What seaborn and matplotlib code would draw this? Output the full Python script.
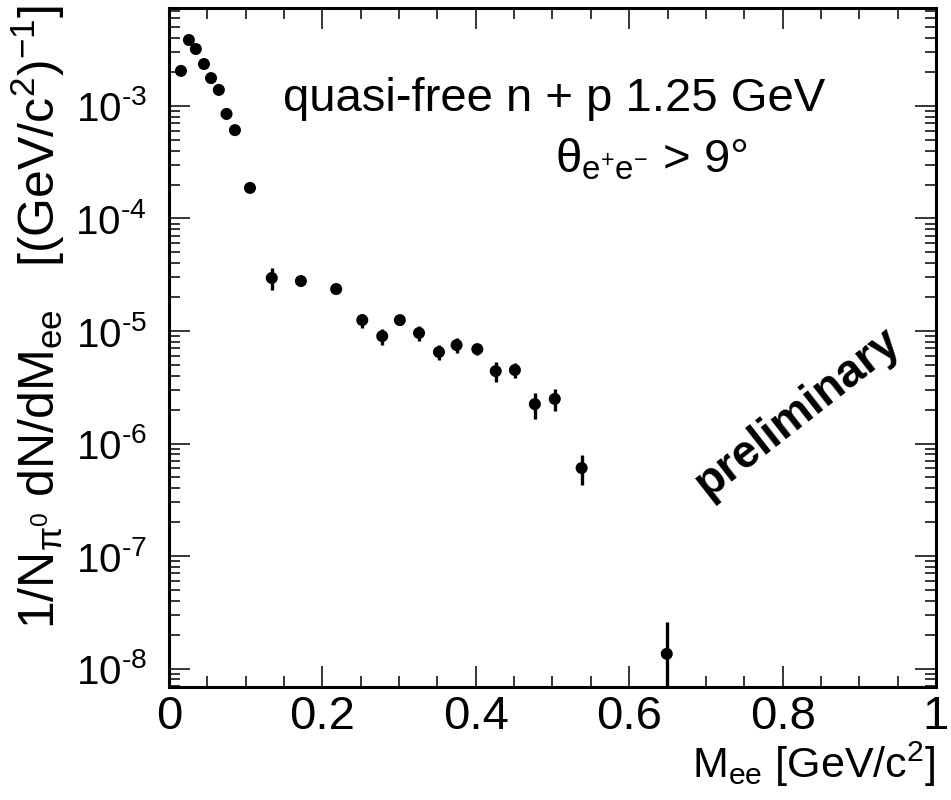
import numpy as np
import pandas as pd
import matplotlib
matplotlib.use("Agg")
import matplotlib.pyplot as plt
import matplotlib.ticker as mticker
import seaborn as sns

# ---- data ----
mee = [0.0156, 0.026, 0.035, 0.0456, 0.0548, 0.065, 0.075, 0.086, 0.1056,
       0.134, 0.172, 0.218, 0.252, 0.278, 0.301, 0.326, 0.352, 0.375, 0.402,
       0.426, 0.451, 0.477, 0.503, 0.538, 0.649]
yield_ = [2.05e-3, 3.86e-3, 3.21e-3, 2.36e-3, 1.77e-3, 1.39e-3, 8.5e-4, 6.1e-4, 1.87e-4,
          2.96e-5, 2.78e-5, 2.36e-5, 1.25e-5, 9.0e-6, 1.25e-5, 9.6e-6, 6.5e-6, 7.5e-6, 6.9e-6,
          4.4e-6, 4.5e-6, 2.24e-6, 2.49e-6, 6.05e-7, 1.35e-8]
err = [4e-5, 6e-5, 5e-5, 4e-5, 3e-5, 3e-5, 2e-5, 2e-5, 8e-6,
       6.5e-6, 1.5e-6, 1.2e-6, 1.8e-6, 1.5e-6, 1.2e-6, 1.5e-6, 1.0e-6, 1.1e-6, 0.8e-6,
       0.9e-6, 0.7e-6, 0.58e-6, 0.55e-6, 1.8e-7, 1.24e-8]
ytick_values = [1e-8, 1e-7, 1e-6, 1e-5, 1e-4, 1e-3]
xtick_values = [0, 0.2, 0.4, 0.6, 0.8, 1.0]

df = pd.DataFrame({"mee": mee, "y": yield_, "err": err})

sns.set_theme(style="ticks")
plt.rcParams["font.family"] = ["Liberation Sans", "DejaVu Sans"]
plt.rcParams["mathtext.fontset"] = "custom"
plt.rcParams["mathtext.rm"] = "Liberation Sans"
plt.rcParams["mathtext.it"] = "Liberation Sans"
plt.rcParams["mathtext.bf"] = "Liberation Sans:bold"
plt.rcParams["mathtext.default"] = "regular"
for k in ["text.color", "axes.labelcolor", "xtick.color", "ytick.color", "axes.edgecolor"]:
    plt.rcParams[k] = "black"

fig = plt.figure(figsize=(9.51, 8), dpi=100)
ax = fig.add_axes([0.1777, 0.14125, 0.8065, 0.84875])

ax.errorbar(df["mee"], df["y"], yerr=df["err"], fmt="none", ecolor="black",
            elinewidth=2.4, capsize=0, zorder=2)
sns.scatterplot(data=df, x="mee", y="y", ax=ax, color="black", s=75,
                edgecolor="none", zorder=3, legend=False)

ax.set_yscale("log")
ax.set_xlim(0, 1)
ax.set_ylim(6.85e-9, 7.43e-3)
ax.set_xlabel("")
ax.set_ylabel("")

ax.set_xticks(xtick_values)
ax.set_xticklabels(["%g" % v for v in xtick_values])
ax.xaxis.set_minor_locator(mticker.MultipleLocator(0.05))
ax.set_yticks(ytick_values)
ax.set_yticklabels(["10$^{\u2010%d}$" % abs(int(round(np.log10(v)))) for v in ytick_values])
ax.yaxis.set_minor_locator(mticker.LogLocator(base=10, subs=np.arange(2, 10), numticks=20))
ax.yaxis.set_minor_formatter(mticker.NullFormatter())
ax.set_ylim(6.85e-9, 7.43e-3)

ax.tick_params(which="both", direction="in", top=True, right=True, width=1.1, color="black")
ax.tick_params(which="major", length=15)
ax.tick_params(which="minor", length=8)
ax.tick_params(axis="x", pad=6, labelsize=34)
ax.tick_params(axis="y", pad=16, labelsize=29)
for sp in ax.spines.values():
    sp.set_linewidth(2.2)
    sp.set_color("black")

fig.text(0.040, 0.994, r"1/N$_{\pi^{0}}$ dN/dM$_{ee}$   [(GeV/c$^{2}$)$^{-1}$]",
         rotation=90, ha="center", va="top", fontsize=36)
fig.text(0.984, 0.045, r"M$_{ee}$ [GeV/c$^{2}$]", ha="right", va="center", fontsize=31)

ax.text(0.149, 0.866, "quasi-free n + p 1.25 GeV", transform=ax.transAxes,
        ha="left", va="center", fontsize=34)
ax.text(0.503, 0.776, r"θ$_{e^{+}e^{-}}$ > 9°", transform=ax.transAxes,
        ha="left", va="center", fontsize=34)
ax.text(0.820, 0.405, "preliminary", transform=ax.transAxes, rotation=38,
        ha="center", va="center", fontsize=33, fontweight="bold")

fig.savefig("out.png", dpi=100)
